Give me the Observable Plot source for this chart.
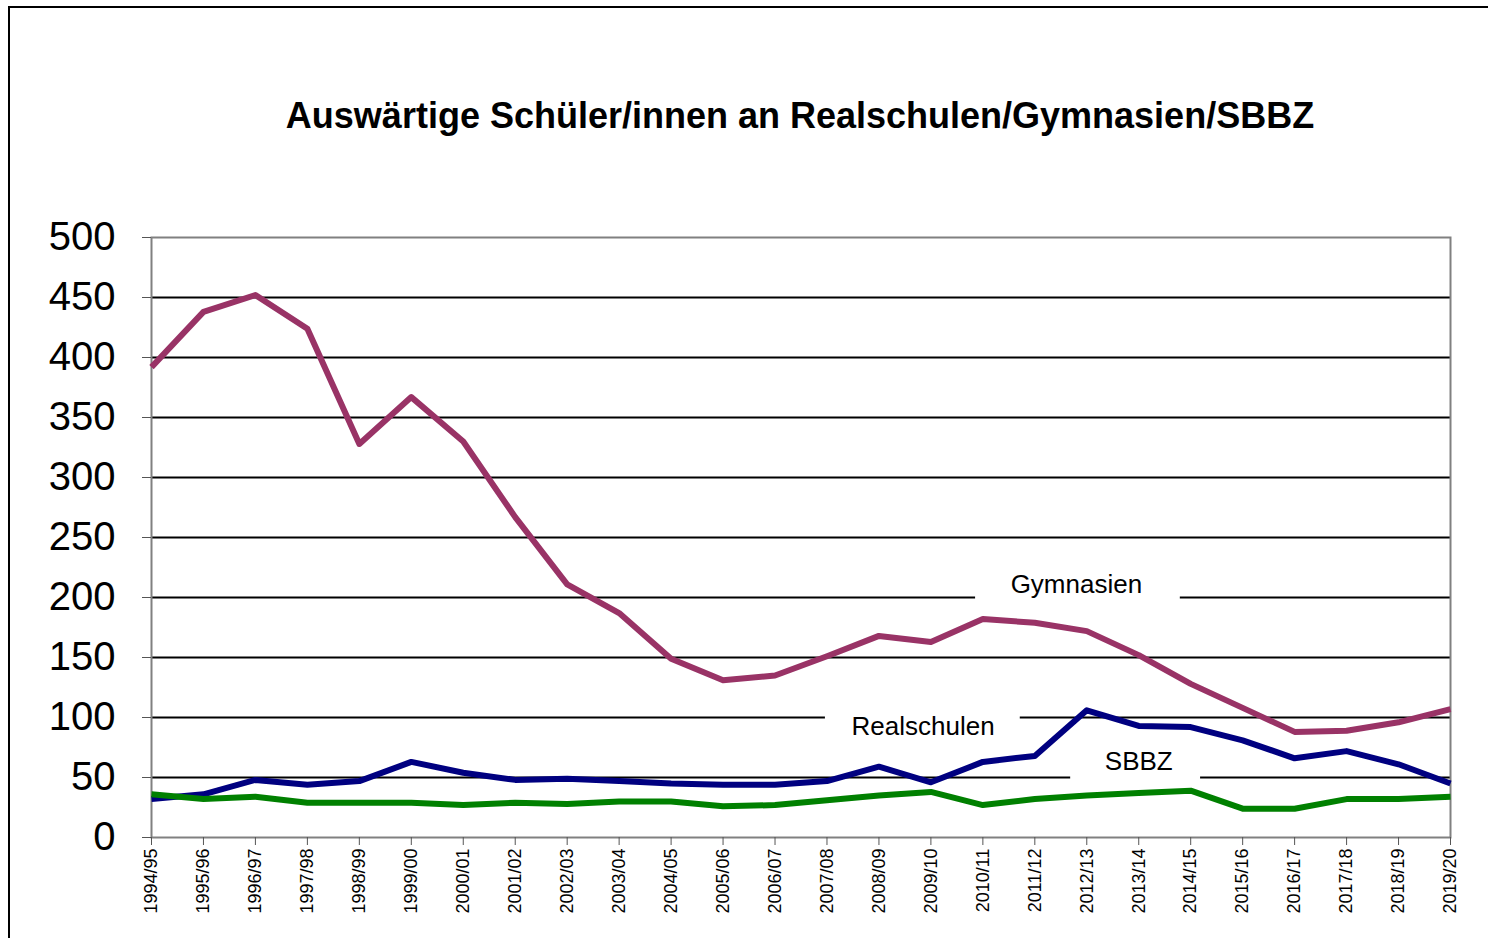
<!DOCTYPE html>
<html>
<head>
<meta charset="utf-8">
<script src="https://cdn.jsdelivr.net/npm/d3@7"></script>
<script src="https://cdn.jsdelivr.net/npm/@observablehq/plot@0.6"></script>
<style>
html, body { margin: 0; padding: 0; overflow: hidden; background: #fff; width: 1488px; height: 938px; }
#wrap { position: relative; width: 1488px; height: 938px; overflow: hidden; }
#frame { position: absolute; left: 8px; top: 6px; width: 1600px; height: 1100px; border: 2px solid #000; box-sizing: border-box; pointer-events: none; }
#title { position: absolute; left: 800px; top: 98px; transform: translateX(-50%); white-space: nowrap;
  font-family: "Liberation Sans", Arial, sans-serif; font-weight: bold; font-size: 36px; line-height: 36px; color: #000; }
#chart { position: absolute; left: 0; top: 0; }
</style>
</head>
<body>
<div id="wrap">
  <div id="chart"></div>
  <div id="title">Auswärtige Schüler/innen an Realschulen/Gymnasien/SBBZ</div>
  <div id="frame"></div>
</div>
<script>
const years = ["1994/95","1995/96","1996/97","1997/98","1998/99","1999/00","2000/01","2001/02","2002/03","2003/04","2004/05","2005/06","2006/07","2007/08","2008/09","2009/10","2010/11","2011/12","2012/13","2013/14","2014/15","2015/16","2016/17","2017/18","2018/19","2019/20"];
const gymnasien   = [392,438,452,424,328,367,330,267,211,187,149,131,135,151,168,163,182,179,172,152,128,108,88,89,96,107];
const realschulen = [32,36,48,44,47,63,54,48,49,47,45,44,44,47,59,46,63,68,106,93,92,81,66,72,61,45];
const sbbz        = [36,32,34,29,29,29,27,29,28,30,30,26,27,31,35,38,27,32,35,37,39,24,24,32,32,34];
const yTicks = [0,50,100,150,200,250,300,350,400,450,500];
const seriesNames = ["Realschulen","Gymnasien","SBBZ"];
const seriesColors = ["#000080","#993366","#008000"];
// annotation labels (index position along x, value along y)
const labelText = ["Gymnasien","Realschulen","SBBZ"];
const labelX = [17.8, 14.85, 19.0];
const labelY = [211, 92, 63];
const boxX1 = [15.86, 12.97, 17.69];
const boxX2 = [19.8, 16.72, 20.19];
const boxY1 = [190, 84, 45];
const boxY2 = [232, 110, 78];

const seriesValues = [realschulen, gymnasien, sbbz];
const rows = [];
seriesNames.forEach((s, k) => seriesValues[k].forEach((v, i) => rows.push({series: s, i, year: years[i], value: v})));
const labels = labelText.map((t, k) => ({text: t, x: labelX[k], y: labelY[k], x1: boxX1[k], x2: boxX2[k], y1: boxY1[k], y2: boxY2[k]}));

const chart = Plot.plot({
  width: 1488,
  height: 938,
  marginLeft: 151,
  marginRight: 38,
  marginTop: 237,
  marginBottom: 101,
  style: {fontFamily: "'Liberation Sans', Arial, sans-serif", background: "transparent", color: "#000"},
  x: {type: "linear", domain: [0, years.length - 1]},
  y: {domain: [0, 500]},
  marks: [
    Plot.ruleY(yTicks.filter(d => d > 0 && d < 500), {stroke: "#000", strokeWidth: 2}),
    Plot.rect(labels, {x1: "x1", x2: "x2", y1: "y1", y2: "y2", fill: "#fff"}),
    Plot.text(labels, {x: "x", y: "y", text: "text", fontSize: 26, fill: "#000"}),
    Plot.frame({stroke: "#808080", strokeWidth: 2}),
    Plot.axisY(yTicks, {tickSize: 9, tickPadding: 27, fontSize: 40, stroke: "#555", label: null}),
    Plot.axisX(d3.range(years.length), {tickFormat: i => years[i], tickRotate: -90, tickSize: 8, tickPadding: 3, fontSize: 18, stroke: "#555", label: null}),
    ...seriesNames.map((s, k) => Plot.line(rows.filter(r => r.series === s), {x: "i", y: "value", stroke: seriesColors[k], strokeWidth: 6, strokeLinejoin: "round", strokeLinecap: "butt"}))
  ]
});
document.getElementById("chart").appendChild(chart);
</script>
</body>
</html>
